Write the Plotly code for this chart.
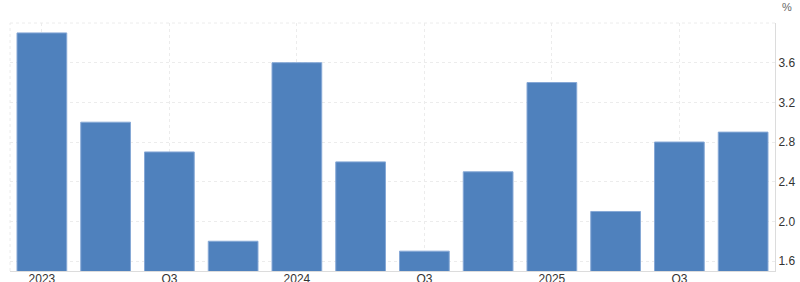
import plotly.graph_objects as go

quarters = ["2023 Q1", "2023 Q2", "2023 Q3", "2023 Q4",
            "2024 Q1", "2024 Q2", "2024 Q3", "2024 Q4",
            "2025 Q1", "2025 Q2", "2025 Q3", "2025 Q4"]
values = [3.9, 3.0, 2.7, 1.8, 3.6, 2.6, 1.7, 2.5, 3.4, 2.1, 2.8, 2.9]
x_tick_positions = [0, 2, 4, 6, 8, 10]
x_tick_labels = ["2023", "Q3", "2024", "Q3", "2025", "Q3"]
y_ticks = [1.6, 2.0, 2.4, 2.8, 3.2, 3.6]
y_tick_labels = ["1.6", "2.0", "2.4", "2.8", "3.2", "3.6"]

fig = go.Figure()
fig.add_trace(go.Bar(
    x=list(range(len(quarters))),
    y=values,
    customdata=quarters,
    hovertemplate="%{customdata}: %{y}%<extra></extra>",
    marker=dict(color="#4f81bd", line=dict(color="#86a8d6", width=1)),
    width=0.78,
))

fig.update_layout(
    width=800, height=282,
    margin=dict(l=10, r=25, t=23, b=11),
    paper_bgcolor="white", plot_bgcolor="white",
    showlegend=False,
    font=dict(family="Arial, Liberation Sans, sans-serif", size=12, color="#333333"),
    xaxis=dict(
        range=[-0.5, 11.5],
        tickvals=x_tick_positions, ticktext=x_tick_labels,
        showgrid=True, gridcolor="#ececec", griddash="dot", gridwidth=1,
        showline=True, linecolor="#dcdcdc", linewidth=1,
        ticks="", zeroline=False, automargin=False,
        ticklabelstandoff=-3,
        tickfont=dict(size=12, color="#333333"),
    ),
    yaxis=dict(
        side="right",
        range=[1.5, 4.0],
        tickvals=y_ticks, ticktext=y_tick_labels,
        showgrid=True, gridcolor="#ececec", griddash="dot", gridwidth=1,
        showline=True, linecolor="#dcdcdc", linewidth=1,
        ticks="", zeroline=False, automargin=False,
        tickfont=dict(size=12, color="#333333"),
    ),
    shapes=[
        dict(type="line", xref="paper", yref="paper", x0=0, x1=1, y0=1, y1=1,
             line=dict(color="#ececec", width=1, dash="dot")),
        dict(type="line", xref="paper", yref="paper", x0=0, x1=0, y0=0, y1=1,
             line=dict(color="#ececec", width=1, dash="dot")),
    ],
    annotations=[
        dict(text="%", xref="paper", yref="paper", x=1.0, y=1.0,
             xanchor="left", yanchor="bottom", xshift=5, yshift=8,
             showarrow=False, font=dict(size=11, color="#666666")),
    ],
)

fig.write_html("out.html")
